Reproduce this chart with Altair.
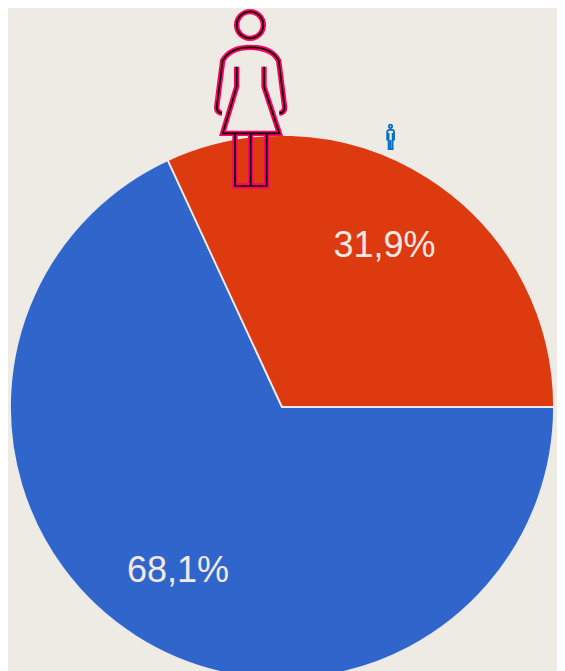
import altair as alt
import pandas as pd

categories = ["Hombres", "Mujeres"]
shares = [68.1, 31.9]
share_labels = ["68,1%", "31,9%"]
slice_colors = ["#3066cc", "#de3a10"]

BG = "#eeebe4"
W, H = 549, 663
CX, CY = 274, 399


def icon(segments, cx, cy, half):
    out = []
    for cmd in segments:
        if isinstance(cmd, tuple) and cmd[0] == "A":
            _, r, x, y = cmd
            rr = r / half
            out.append(f"A{rr:.4f},{rr:.4f} 0 1 1 {(x-cx)/half:.4f},{(y-cy)/half:.4f}")
        elif isinstance(cmd, tuple) and cmd[0] == "Q":
            _, a, b, x, y = cmd
            out.append(f"Q{(a-cx)/half:.4f},{(b-cy)/half:.4f} {(x-cx)/half:.4f},{(y-cy)/half:.4f}")
        else:
            c, x, y = cmd
            out.append(f"{c}{(x-cx)/half:.4f},{(y-cy)/half:.4f}")
    return " ".join(out)


woman_path = icon([
    # head
    ("M", 110, 75), ("A", 40, 190, 75), ("A", 40, 110, 75),
    # shoulders and outer arms
    ("M", 66, 340), ("Q", 50, 338, 50, 322), ("L", 68, 182), ("Q", 90, 142, 150, 142),
    ("Q", 215, 142, 236, 182), ("L", 254, 322), ("Q", 254, 338, 238, 340),
    # inner arms and skirt
    ("M", 110, 200), ("L", 110, 260), ("L", 68, 400), ("L", 238, 400), ("L", 192, 260), ("L", 192, 200),
    # legs
    ("M", 105, 400), ("L", 105, 558), ("L", 200, 558), ("L", 200, 400),
    ("M", 152, 400), ("L", 152, 558),
], 153, 298.5, 265.5)

man_path = icon([
    ("M", 39, 32), ("A", 7, 53, 32), ("A", 7, 39, 32),
    ("M", 32, 92), ("L", 32, 56), ("Q", 32, 47, 42, 47), ("L", 52, 47), ("Q", 61, 47, 61, 56), ("L", 61, 92),
    ("M", 38, 60), ("L", 38, 128), ("L", 55, 128), ("L", 55, 60),
    ("M", 46, 90), ("L", 46, 128),
], 46, 77, 55)

x_scale = alt.Scale(domain=[0, W], range=[0, W])
y_scale = alt.Scale(domain=[0, H], range=[0, H])
xq = alt.X("px:Q", scale=x_scale, axis=None)
yq = alt.Y("py:Q", scale=y_scale, axis=None)

pie_df = pd.DataFrame({
    "cat": categories, "share": shares, "label": share_labels,
    "px": [CX] * 2, "py": [CY] * 2,
    "lx": [170, 376.5], "ly": [563, 238],
})

pie = alt.Chart(pie_df).mark_arc(radius=272, stroke="#ece9ea", strokeWidth=1.8).encode(
    x=xq, y=yq,
    theta=alt.Theta("share:Q", stack=True,
                    scale=alt.Scale(range=[1.5707963, 7.8539816])),
    order=alt.Order("cat:N"),
    color=alt.Color("cat:N", legend=None,
                    scale=alt.Scale(domain=categories, range=slice_colors)),
)

labels = alt.Chart(pie_df).mark_text(
    font="Liberation Sans", fontSize=36, color="#f3e8e2", align="center", baseline="middle"
).encode(
    x=alt.X("lx:Q", scale=x_scale, axis=None),
    y=alt.Y("ly:Q", scale=y_scale, axis=None),
    text="label:N",
)


def glyph(df, path, size, color, sw):
    return alt.Chart(df).mark_point(
        shape=path, size=size, filled=False, stroke=color, strokeWidth=sw, opacity=1
    ).encode(x=xq, y=yq)


woman_df = pd.DataFrame({"px": [243], "py": [91.5]})
man_df = pd.DataFrame({"px": [382.5], "py": [129]})

chart = alt.layer(
    pie, labels,
    glyph(woman_df, woman_path, 177 ** 2, "#ff0066", 5.4),
    glyph(woman_df, woman_path, 177 ** 2, "#000000", 1.7),
    glyph(man_df, man_path, 26 ** 2, "#0a6fc0", 1.8),
).properties(
    width=W, height=H, background=BG, padding=0,
    autosize=alt.AutoSizeParams(type="none"),
).configure_view(stroke=None)

chart.save("out.html", embed_options={"renderer": "svg", "actions": False})
